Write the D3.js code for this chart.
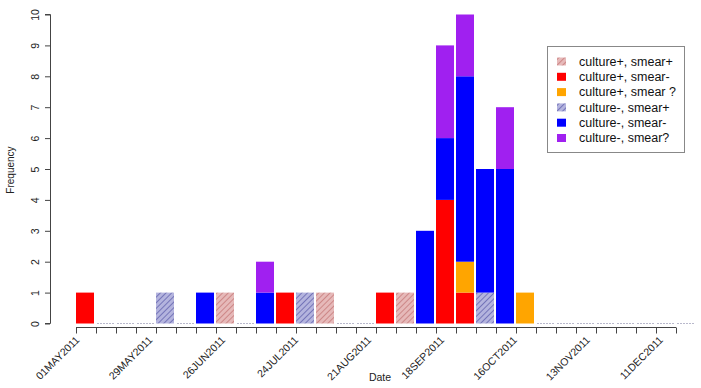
<!DOCTYPE html>
<html>
<head>
<meta charset="utf-8">
<script src="https://cdn.jsdelivr.net/npm/d3@7"></script>
<style>
  html, body { margin: 0; padding: 0; background: #fff; }
  svg { display: block; font-family: "Liberation Sans", Arial, sans-serif; }
</style>
</head>
<body>
<svg id="chart" width="701" height="388"></svg>
<script>
// ---- Data ----
// weekly-ish bins (index 0 starts at 01MAY2011)
const binCount = 31;
const seriesNames = ["culture+, smear+", "culture+, smear-", "culture+, smear ?", "culture-, smear+", "culture-, smear-", "culture-, smear?"];
const cultPosSmearPos = [0,0,0,0,0,0,0,1,0,0,0,0,1,0,0,0,1,0,0,0,0,0,0,0,0,0,0,0,0,0,0];
const cultPosSmearNeg = [1,0,0,0,0,0,0,0,0,0,1,0,0,0,0,1,0,0,4,1,0,0,0,0,0,0,0,0,0,0,0];
const cultPosSmearUnk = [0,0,0,0,0,0,0,0,0,0,0,0,0,0,0,0,0,0,0,1,0,0,1,0,0,0,0,0,0,0,0];
const cultNegSmearPos = [0,0,0,0,1,0,0,0,0,0,0,1,0,0,0,0,0,0,0,0,1,0,0,0,0,0,0,0,0,0,0];
const cultNegSmearNeg = [0,0,0,0,0,0,1,0,0,1,0,0,0,0,0,0,0,3,2,6,4,5,0,0,0,0,0,0,0,0,0];
const cultNegSmearUnk = [0,0,0,0,0,0,0,0,0,1,0,0,0,0,0,0,0,0,3,2,0,2,0,0,0,0,0,0,0,0,0];
const dateTickLabels = ["01MAY2011","29MAY2011","26JUN2011","24JUL2011","21AUG2011","18SEP2011","16OCT2011","13NOV2011","11DEC2011"];
const dateTickValues = ["2011-05-01","2011-05-29","2011-06-26","2011-07-24","2011-08-21","2011-09-18","2011-10-16","2011-11-13","2011-12-11"];
const yTicks = [0,1,2,3,4,5,6,7,8,9,10];

const seriesValues = [cultPosSmearPos, cultPosSmearNeg, cultPosSmearUnk, cultNegSmearPos, cultNegSmearNeg, cultNegSmearUnk];
const fills = ["url(#hatchPink)", "#ff0000", "#ffa500", "url(#hatchBlue)", "#0000ff", "#a020f0"];

// ---- Build table ----
const rows = d3.range(binCount).map(i => {
  const r = { bin: i };
  seriesNames.forEach((s, k) => r[s] = seriesValues[k][i]);
  return r;
});
const stacked = d3.stack().keys(seriesNames)(rows);

const svg = d3.select("#chart");
const defs = svg.append("defs");
function hatch(id, bg, fg) {
  const p = defs.append("pattern").attr("id", id).attr("patternUnits", "userSpaceOnUse")
    .attr("width", 4).attr("height", 4).attr("patternTransform", "rotate(45)");
  p.append("rect").attr("width", 4).attr("height", 4).attr("fill", bg);
  p.append("line").attr("x1", 0).attr("y1", 0).attr("x2", 0).attr("y2", 4).attr("stroke", fg).attr("stroke-width", 1.6);
}
hatch("hatchPink", "#e6b9b9", "#c77a7a");
hatch("hatchBlue", "#b4b4de", "#6565b0");

// ---- Scales ----
const x = d3.scaleLinear().domain([0, 30]).range([76, 676]);
const xDate = d3.scaleUtc().domain([new Date("2011-05-01"), new Date("2011-12-11")]).range([76.5, 660]);
const y = d3.scaleLinear().domain([0, 10]).range([323.5, 14.5]);

// empty-bin baseline
svg.append("g").selectAll("line").data(rows.filter(r => d3.sum(seriesValues, v => v[r.bin]) === 0))
  .join("line")
  .attr("x1", d => x(d.bin) + 1).attr("x2", d => x(d.bin + 1) - 1)
  .attr("y1", y(0)).attr("y2", y(0))
  .attr("stroke", "#b9b9cc").attr("stroke-width", 1).attr("stroke-dasharray", "2,1");

// bars
svg.append("g").selectAll("g").data(stacked).join("g")
  .attr("fill", (d, i) => fills[i])
  .selectAll("rect").data(d => d.filter(p => p[1] > p[0])).join("rect")
  .attr("x", d => x(d.data.bin))
  .attr("width", d => x(d.data.bin + 1) - x(d.data.bin) - 2)
  .attr("y", d => y(d[1]))
  .attr("height", d => y(d[0]) - y(d[1]));

// y axis
const yAxis = svg.append("g").attr("transform", "translate(50,0)")
  .call(d3.axisLeft(y).tickValues(yTicks).tickSize(5).tickFormat(d3.format("d")));
yAxis.select(".domain").attr("stroke", "#444").attr("d", `M-5,${y(0)}H0.5V${y(10)}H-5`);
yAxis.selectAll(".tick line").attr("stroke", "#444");
yAxis.selectAll(".tick text")
  .attr("x", null).attr("dy", null)
  .attr("transform", "translate(-11,0) rotate(-90)")
  .attr("text-anchor", "middle").attr("font-size", "10.5px").attr("fill", "#222");

// x axis (bin ticks)
const xAxis = svg.append("g").attr("transform", "translate(0,327.5)")
  .call(d3.axisBottom(x).ticks(30).tickValues(d3.range(0, 31)).tickSize(6).tickFormat(""));
xAxis.select(".domain").attr("stroke", "#444").attr("d", `M${x(0)},0H${x(30)}`);
xAxis.selectAll(".tick line").attr("stroke", "#444");

// date labels
svg.append("g").selectAll("text").data(dateTickValues).join("text")
  .attr("transform", d => `translate(${xDate(new Date(d)) + 1},${338}) rotate(-45)`)
  .attr("text-anchor", "end").attr("dy", "0.35em")
  .attr("font-size", "10.5px").attr("fill", "#222")
  .text((d, i) => dateTickLabels[i]);

// axis titles
svg.append("text").attr("x", 380).attr("y", 381).attr("text-anchor", "middle")
  .attr("font-size", "10.5px").attr("fill", "#222").text("Date");
svg.append("text").attr("transform", "translate(14,170) rotate(-90)").attr("text-anchor", "middle")
  .attr("font-size", "10px").attr("fill", "#222").text("Frequency");

// legend
const lg = svg.append("g");
lg.append("rect").attr("x", 547.5).attr("y", 46.5).attr("width", 137).attr("height", 106)
  .attr("fill", "#fff").attr("stroke", "#888");
const items = lg.selectAll("g.item").data(seriesNames).join("g")
  .attr("transform", (d, i) => `translate(0,${61.5 + i * 15.3})`);
items.append("rect").attr("x", 557).attr("y", -4).attr("width", 9).attr("height", 8)
  .attr("fill", (d, i) => fills[i]);
items.append("text").attr("x", 579).attr("y", 0).attr("dy", "0.35em")
  .attr("font-size", "12.5px").attr("fill", "#111").text(d => d);
</script>
</body>
</html>
